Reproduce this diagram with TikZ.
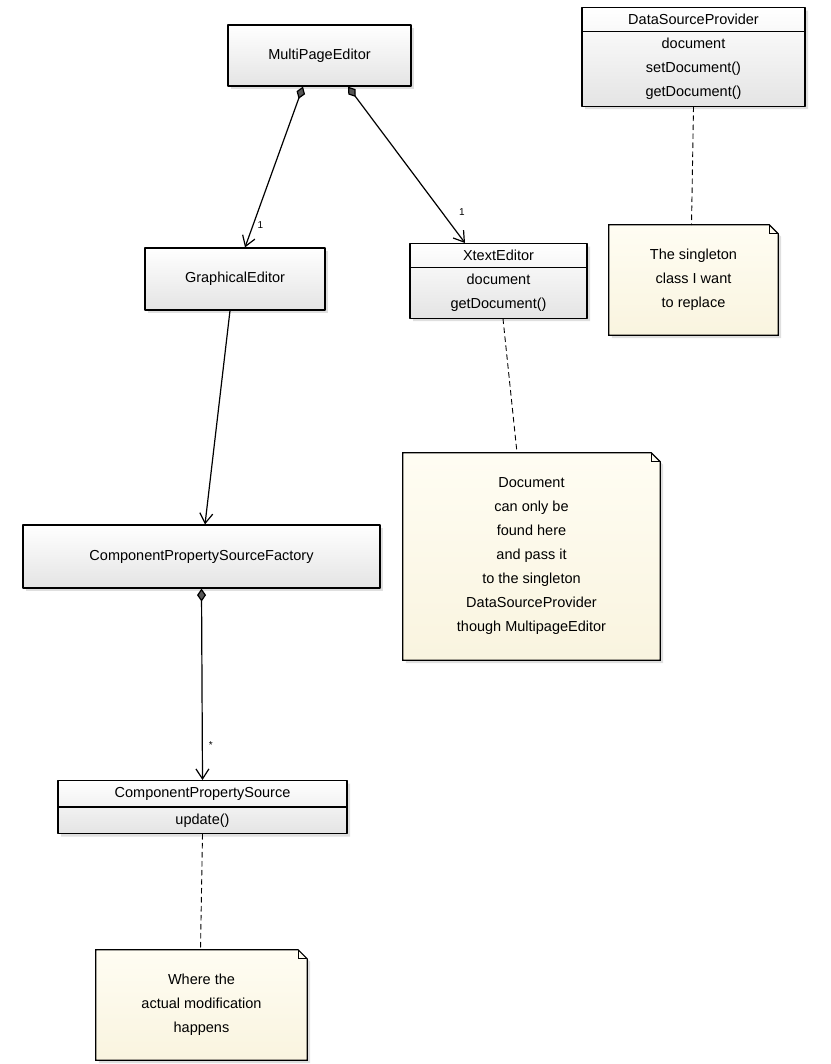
\documentclass[tikz,border=0pt]{standalone}
\usepackage{fontspec}
\setmainfont{Liberation Sans}
\usetikzlibrary{arrows.meta,shapes.multipart,shadows,backgrounds}

\definecolor{boxbot}{HTML}{E4E4E4}
\definecolor{notetop}{HTML}{FFFDF3}
\definecolor{notebot}{HTML}{F9F4DF}
\definecolor{diam}{HTML}{555555}

\begin{document}
\begin{tikzpicture}[x=1pt, y=-1pt, font=\fontsize{14.5}{24}\selectfont, line join=round, line cap=round,
    cls/.style={draw, line width=1.2pt, top color=white, bottom color=boxbot,
      drop shadow={opacity=0.25, shadow xshift=3pt, shadow yshift=-3pt}},
    clsplit/.style={cls, rectangle split, rectangle split parts=2, align=center, inner ysep=6pt, inner xsep=4pt},
    notetext/.style={align=center, inner sep=0pt},
    notebg/.style={line width=1.2pt, top color=notetop, bottom color=notebot,
      drop shadow={opacity=0.25, shadow xshift=3pt, shadow yshift=-3pt}},
    comp/.style={line width=1.2pt, {Diamond[length=13pt, width=9pt, fill=diam]}-{Straight Barb[length=10pt, width=13pt]}},
    assoc/.style={line width=1.2pt, -{Straight Barb[length=10pt, width=13pt]}},
    notelink/.style={line width=0.9pt, dash pattern=on 5pt off 4pt},
    lbl/.style={font=\fontsize{10}{10}\selectfont, inner sep=1pt}]
  \useasboundingbox (0,0) rectangle (830,1064);

  % classes
  \node[cls, minimum width=183pt, minimum height=61pt] (mpe) at (319.5,55.5) {MultiPageEditor};
  \node[clsplit, text width=215pt, anchor=north] (dsp) at (693.5,7)
    {DataSourceProvider \nodepart{two} document\\setDocument()\\getDocument()};
  \node[cls, minimum width=180pt, minimum height=62pt] (ge) at (235,279) {GraphicalEditor};
  \node[clsplit, text width=169pt, anchor=north] (xe) at (498.5,243)
    {XtextEditor \nodepart{two} document\\getDocument()};
  \node[cls, minimum width=357pt, minimum height=63pt] (cpsf) at (201.5,556.5) {ComponentPropertySourceFactory};
  \node[clsplit, text width=281pt, anchor=north] (cps) at (202.5,780)
    {ComponentPropertySource \nodepart{two} update()};

  % notes
  \node[notetext, minimum width=169pt, minimum height=110pt] (n1) at (693.5,280)
    {The singleton\\class I want\\to replace};
  \node[notetext, minimum width=257pt, minimum height=207pt] (n2) at (531.5,556.5)
    {Document\\can only be\\found here\\and pass it\\to the singleton\\DataSourceProvider\\though MultipageEditor};
  \node[notetext, minimum width=211pt, minimum height=110pt] (n3) at (201.5,1005)
    {Where the\\actual modification\\happens};
  \begin{scope}[on background layer]
    \fill[white] (0,0) rectangle (830,1064);
    \foreach \n in {n1,n2,n3}{
      \filldraw[notebg] (\n.south west) |- ([xshift=-9pt]\n.north east) -- ([yshift=-9pt]\n.north east)
        |- (\n.south west) -- cycle;
      \draw[line width=0.7pt] ([xshift=-9pt]\n.north east) |- ([yshift=-9pt]\n.north east);
    }
  \end{scope}

  % connectors
  \draw[comp] ([xshift=-16.5pt]mpe.south) -- ([xshift=10pt]ge.north) node[lbl, pos=0.86, right=3pt] {1};
  \draw[comp] ([xshift=28.5pt]mpe.south) -- ([xshift=-33.5pt]xe.north) node[lbl, pos=0.8, right=16pt] {1};
  \draw[assoc] ([xshift=-5pt]ge.south) -- ([xshift=3.5pt]cpsf.north);
  \draw[comp] (cpsf.south) -- (cps.north) node[lbl, pos=0.82, right=5pt] {*};

  \draw[notelink] (dsp.south) -- ([xshift=-2pt]n1.north);
  \draw[notelink] ([xshift=4.5pt]xe.south) -- ([xshift=-14.5pt]n2.north);
  \draw[notelink] (cps.south) -- ([xshift=-1pt]n3.north);
\end{tikzpicture}
\end{document}
